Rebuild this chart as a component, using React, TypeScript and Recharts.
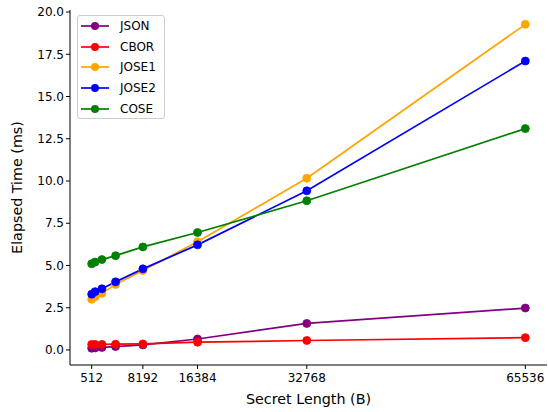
import React from "react";
import { LineChart, Line, XAxis, YAxis, Legend } from "recharts";

const secretLengths = [512, 1024, 2048, 4096, 8192, 16384, 32768, 65536];
const jsonValues = [0.1, 0.12, 0.15, 0.2, 0.3, 0.65, 1.57, 2.48];
const cborValues = [0.33, 0.33, 0.33, 0.34, 0.36, 0.46, 0.56, 0.73];
const jose1Values = [3.0, 3.15, 3.35, 3.88, 4.7, 6.4, 10.16, 19.27];
const jose2Values = [3.3, 3.45, 3.62, 4.03, 4.8, 6.22, 9.42, 17.1];
const coseValues = [5.1, 5.2, 5.35, 5.58, 6.1, 6.95, 8.83, 13.1];
const xTicks = [512, 8192, 16384, 32768, 65536];
const yTicks = [0, 2.5, 5, 7.5, 10, 12.5, 15, 17.5, 20];

const seriesDefs = [
  { key: "JSON", color: "#800080", values: jsonValues },
  { key: "CBOR", color: "#ff0000", values: cborValues },
  { key: "JOSE1", color: "#ffa500", values: jose1Values },
  { key: "JOSE2", color: "#0000ff", values: jose2Values },
  { key: "COSE", color: "#008000", values: coseValues },
];

const data = secretLengths.map((x, i) => {
  const row: Record<string, number> = { x };
  seriesDefs.forEach((s) => {
    row[s.key] = s.values[i];
  });
  return row;
});

const FONT = "DejaVu Sans";

const LegendBox = () => (
  <div
    style={{
      border: "1px solid #cccccc",
      borderRadius: 3,
      background: "rgba(255,255,255,0.8)",
      width: 86,
      height: 102,
      boxSizing: "content-box",
      fontFamily: FONT,
      fontSize: 12,
      color: "#000",
    }}
  >
    {seriesDefs.map((s) => (
      <div key={s.key} style={{ display: "flex", alignItems: "center", height: 20.6 }}>
        <svg width={42} height={20} style={{ display: "block", flex: "none" }}>
          <line x1={3} y1={10} x2={31} y2={10} stroke={s.color} strokeWidth={1.7} />
          <circle cx={17} cy={10} r={4} fill={s.color} />
        </svg>
        <span>{s.key}</span>
      </div>
    ))}
  </div>
);

export default function App() {
  return (
    <div style={{ position: "absolute", left: 0, top: 0, background: "#fff" }}>
      <LineChart
        width={548}
        height={412}
        data={data}
        margin={{ top: 10, right: 1, bottom: 0, left: 0 }}
      >
        <XAxis
          dataKey="x"
          type="number"
          domain={[-2739, 68787]}
          ticks={xTicks}
          allowDataOverflow
          height={47}
          tickSize={4}
          stroke="#000"
          tick={{ fill: "#000", fontSize: 12, fontFamily: FONT, dy: 2 }}
          tickLine={{ stroke: "#000" }}
          axisLine={{ stroke: "#000" }}
          label={{
            value: "Secret Length (B)",
            position: "insideBottom",
            offset: 8,
            fill: "#000",
            fontSize: 14.3,
            fontFamily: FONT,
          }}
        />
        <XAxis
          xAxisId="top"
          orientation="top"
          dataKey="x"
          type="number"
          domain={[-2739, 68787]}
          height={0}
          tick={false}
          tickLine={false}
          axisLine={{ stroke: "#000" }}
        />
        <YAxis
          type="number"
          domain={[-0.89, 20.12]}
          ticks={yTicks}
          allowDataOverflow
          width={70}
          tickSize={4}
          stroke="#000"
          tick={{ fill: "#000", fontSize: 12, fontFamily: FONT }}
          tickLine={{ stroke: "#000" }}
          axisLine={{ stroke: "#000" }}
          tickFormatter={(v: number) => v.toFixed(1)}
          label={{
            content: () => (
              <text
                x={17}
                y={187.5}
                transform="rotate(-90 17 187.5)"
                textAnchor="middle"
                dominantBaseline="central"
                fontFamily={FONT}
                fontSize={14.3}
                fill="#000"
              >
                Elapsed Time (ms)
              </text>
            ),
          }}
        />
        <YAxis
          yAxisId="right"
          orientation="right"
          type="number"
          domain={[-0.89, 20.12]}
          width={0}
          tick={false}
          tickLine={false}
          axisLine={{ stroke: "#000" }}
        />
        <Legend
          layout="vertical"
          align="center"
          verticalAlign="middle"
          content={() => <LegendBox />}
          wrapperStyle={{ left: 77, top: 15, width: "auto", height: "auto" }}
        />
        {seriesDefs.map((s) => (
          <Line
            key={s.key}
            dataKey={s.key}
            type="linear"
            stroke={s.color}
            strokeWidth={1.7}
            dot={{ r: 4, fill: s.color, stroke: s.color, strokeWidth: 0.8 }}
            activeDot={false}
            isAnimationActive={false}
          />
        ))}
      </LineChart>
    </div>
  );
}
